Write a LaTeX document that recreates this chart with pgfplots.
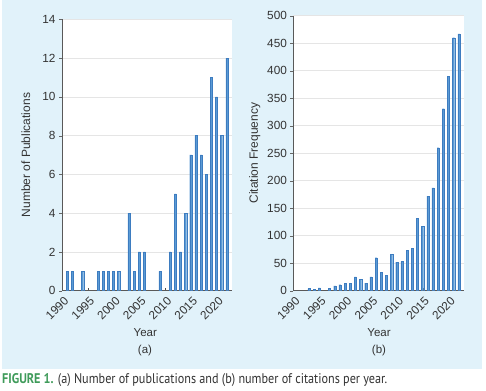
\documentclass[border=0pt]{standalone}
\usepackage{pgfplots}
\pgfplotsset{compat=1.18}
\usepackage{fontspec}
\setmainfont{Liberation Sans}
\newfontfamily\capfont[FakeStretch=0.87]{PT Sans}
\definecolor{bgblue}{HTML}{E1F2FA}
\definecolor{barfill}{HTML}{5B9BD5}
\definecolor{baredge}{HTML}{3D7CC0}
\definecolor{capgreen}{HTML}{3F9B5A}
\definecolor{txt}{HTML}{333333}
\newcommand{\ticksfont}{\fontsize{11.8bp}{13bp}\selectfont}
\newcommand{\labfont}{\fontsize{12bp}{14bp}\selectfont}
\newcommand{\yrfont}{\fontsize{11.5bp}{13bp}\selectfont}
\pgfplotsset{
  myaxis/.style={
    scale only axis,
    anchor=south west,
    axis lines=left,
    axis line style={-, draw=black!65, line width=0.6pt},
    axis background/.style={fill=white},
    ybar, bar width=2.1bp,
    xmin=1990, xmax=2023,
    ymin=0,
    xtick={1990,1995,...,2020},
    tick align=outside,
    major tick length=3bp,
    x tick style={yshift=3bp, draw=black!70},
    y tick style={draw=black!60},
    xticklabel style={rotate=45, anchor=north east, font=\ticksfont, text=txt, inner sep=0.5pt, yshift=-2bp},
    yticklabel style={font=\ticksfont, text=txt},
    /pgf/number format/assume math mode=true,
    /pgf/number format/1000 sep={},
    ymajorgrids, grid style={draw=black!10, line width=0.5pt},
  }
}
\begin{document}
\begin{tikzpicture}
\fill[white] (0bp,0bp) rectangle (486bp,391bp);
\fill[bgblue] (1.5bp,22bp) rectangle (482bp,391bp);

\begin{axis}[myaxis, at={(62bp,100.3bp)}, width=170bp, height=271.4bp,
  ymax=14, ytick={0,2,...,14},
  ylabel={Number of Publications},
  every axis y label/.style={at={(axis description cs:-0.213,0.5)}, rotate=90, anchor=center, font=\labfont, text=txt},
  xlabel={Year},
  every axis x label/.style={at={(axis description cs:0.49,-0.156)}, anchor=center, font=\yrfont, text=txt}]
\addplot[fill=barfill, draw=baredge, line width=0.3pt] coordinates {
(1991,1) (1992,1) (1994,1) (1997,1) (1998,1) (1999,1) (2000,1) (2001,1)
(2003,4) (2004,1) (2005,2) (2006,2) (2009,1) (2011,2) (2012,5) (2013,2)
(2014,4) (2015,7) (2016,8) (2017,7) (2018,6) (2019,11) (2020,10) (2021,8) (2022,12)};
\end{axis}

\begin{axis}[myaxis, at={(293.4bp,100.3bp)}, width=170.6bp, height=275bp,
  ymax=500, ytick={0,50,...,500},
  ylabel={Citation Frequency},
  every axis y label/.style={at={(axis description cs:-0.227,0.5)}, rotate=90, anchor=center, font=\labfont, text=txt},
  xlabel={Year},
  every axis x label/.style={at={(axis description cs:0.502,-0.154)}, anchor=center, font=\yrfont, text=txt}]
\addplot[fill=barfill, draw=baredge, line width=0.3pt] coordinates {
(1993,4) (1994,2) (1995,5) (1997,4) (1998,9) (1999,11) (2000,14) (2001,14)
(2002,25) (2003,21) (2004,14) (2005,25) (2006,60) (2007,33) (2008,28) (2009,66)
(2010,52) (2011,53) (2012,74) (2013,77) (2014,132) (2015,117) (2016,172) (2017,187)
(2018,260) (2019,331) (2020,390) (2021,460) (2022,467)};
\end{axis}

\node[font=\yrfont, text=txt] at (145bp,40bp) {(a)};
\node[font=\yrfont, text=txt] at (379bp,40bp) {(b)};
\node[anchor=base west, inner sep=0pt, text=txt] at (2bp,8bp)
  {\capfont\fontsize{14bp}{16bp}\selectfont{\bfseries\color{capgreen}FIGURE 1.} (a) Number of publications and (b) number of citations per year.};
\end{tikzpicture}
\end{document}
